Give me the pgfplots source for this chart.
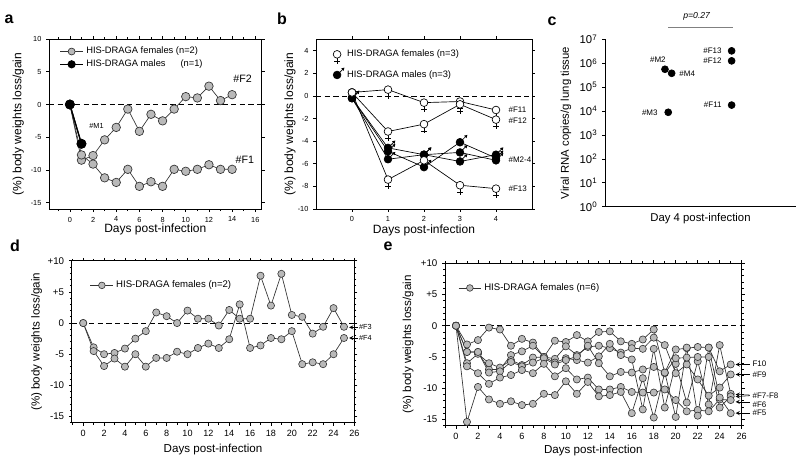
\documentclass[border=0pt]{standalone}
\usepackage{fontspec}
\setmainfont{Liberation Sans}
\usepackage{pgfplots}
\pgfplotsset{compat=1.18}
\definecolor{mkgray}{RGB}{185,185,185}
\definecolor{lngray}{RGB}{50,50,50}
\pgfdeclareplotmark{fem}{%
  \pgfpathmoveto{\pgfqpoint{0pt}{-\pgfplotmarksize}}%
  \pgfpathlineto{\pgfqpoint{0pt}{-2.4\pgfplotmarksize}}%
  \pgfpathmoveto{\pgfqpoint{-0.7\pgfplotmarksize}{-1.8\pgfplotmarksize}}%
  \pgfpathlineto{\pgfqpoint{0.7\pgfplotmarksize}{-1.8\pgfplotmarksize}}%
  \pgfusepathqstroke
  \pgfpathcircle{\pgfpointorigin}{\pgfplotmarksize}%
  \pgfusepathqfillstroke}
\pgfdeclareplotmark{mal}{%
  \pgfpathmoveto{\pgfqpoint{0.7\pgfplotmarksize}{0.7\pgfplotmarksize}}%
  \pgfpathlineto{\pgfqpoint{1.5\pgfplotmarksize}{1.5\pgfplotmarksize}}%
  \pgfusepathqstroke
  \pgfpathmoveto{\pgfqpoint{1.9\pgfplotmarksize}{1.9\pgfplotmarksize}}%
  \pgfpathlineto{\pgfqpoint{1.05\pgfplotmarksize}{1.7\pgfplotmarksize}}%
  \pgfpathlineto{\pgfqpoint{1.7\pgfplotmarksize}{1.05\pgfplotmarksize}}%
  \pgfpathclose
  \pgfusepathqfill
  \pgfpathcircle{\pgfpointorigin}{\pgfplotmarksize}%
  \pgfusepathqfillstroke}
\pgfplotsset{
  base/.style={scale only axis, anchor=south west,
    axis line style={black, line width=0.6pt},
    tick style={black, line width=0.5pt},
    tick align=outside, major tick length=2.2pt, minor tick length=1.4pt,
    /pgf/number format/assume math mode=true,
    legend cell align=left,
    every axis plot/.append style={line width=0.5pt},
    clip=false},
  gr/.style={color=lngray, mark=*, mark size=3.2pt, mark options={fill=mkgray, draw=lngray, line width=0.5pt}},
  grs/.style={color=lngray, mark=*, mark size=2.7pt, mark options={fill=mkgray, draw=lngray, line width=0.45pt}},
}
\newcommand{\tl}{\fontsize{5.5}{6}\selectfont}
\begin{document}
\begin{tikzpicture}
\useasboundingbox (0,0) rectangle (600pt,345.75pt);
% panel letters
\node[font=\fontsize{12}{14}\selectfont\bfseries] at (6.75pt,331.5pt) {a};
\node[font=\fontsize{12}{14}\selectfont\bfseries] at (211.5pt,331.5pt) {b};
\node[font=\fontsize{12}{14}\selectfont\bfseries] at (414pt,330pt) {c};
\node[font=\fontsize{12}{14}\selectfont\bfseries] at (11.25pt,161.25pt) {d};
\node[font=\fontsize{12}{14}\selectfont\bfseries] at (291pt,161.25pt) {e};

% ---------------- panel a
\begin{axis}[base, at={(36.75pt,188.8pt)}, width=159.5pt, height=127.7pt,
  xmin=-1.8, xmax=16.55, ymin=-16, ymax=10,
  xtick={0,2,...,16}, minor xtick={-1,1,...,15},
  ytick={-15,-10,-5,0,5,10},
  ticklabel style={font=\tl},
  xlabel={Days post-infection}, ylabel={(\%) body weights loss/gain},
  label style={font=\fontsize{9}{10}\selectfont},
  xlabel style={at={(axis description cs:0.5,-0.12)}, anchor=center},
  ylabel style={at={(axis description cs:-0.145,0.5)}, anchor=center},
  legend style={draw=none, fill=none, at={(axis description cs:0.03,0.985)}, anchor=north west, font=\fontsize{7}{8}\selectfont, row sep=-1pt},
  legend image post style={mark size=2.6pt}]
\addplot[black, dashed, dash pattern=on 4pt off 2.5pt, forget plot] coordinates {(-1.8,0) (16.55,0)};
\addplot[gr] coordinates {(0,0) (1,-8.5) (2,-7.8) (3,-5.4) (4,-3.5) (5,-0.7) (6,-4.1) (7,-1.5) (8,-2.5) (9,-0.7) (10,1.2) (11,1.0) (12,2.8) (13,0.6) (14,1.5)};
\addlegendentry{HIS-DRAGA females (n=2)}
\addplot[black, line width=0.9pt, mark=*, mark size=3.2pt, mark options={fill=black}] coordinates {(0,0) (1,-6.0)};
\addlegendentry{HIS-DRAGA males\hspace{1.6em}(n=1)}
\addplot[gr, forget plot] coordinates {(0,0) (1,-7.7) (2,-9.1) (3,-11.2) (4,-11.9) (5,-9.9) (6,-12.5) (7,-11.8) (8,-12.5) (9,-9.9) (10,-10.2) (11,-9.9) (12,-9.2) (13,-9.9) (14,-9.9)};
\addplot[black, line width=0.9pt, mark=*, mark size=3.2pt, mark options={fill=black}, forget plot] coordinates {(0,0) (1,-6.0)};
\node[font=\fontsize{8}{9}\selectfont] at (axis cs:14.9,3.9) {\#F2};
\node[font=\fontsize{8}{9}\selectfont] at (axis cs:15.1,-8.5) {\#F1};
\node[font=\fontsize{5.5}{6}\selectfont] at (axis cs:2.3,-3.3) {\#M1};
\end{axis}

% ---------------- panel b
\begin{axis}[base, at={(237pt,189pt)}, width=162pt, height=127.3pt,
  xmin=-1, xmax=5, ymin=-10, ymax=5,
  xtick={0,1,2,3,4}, ytick={-10,-8,...,4},
  ticklabel style={font=\tl},
  xlabel={Days post-infection}, ylabel={(\%) body weights loss/gain},
  label style={font=\fontsize{9}{10}\selectfont},
  xlabel style={at={(axis description cs:0.5,-0.125)}, anchor=center},
  ylabel style={at={(axis description cs:-0.12,0.5)}, anchor=center},
  legend style={draw=none, fill=none, at={(axis description cs:0.06,0.97)}, anchor=north west, font=\fontsize{7}{8}\selectfont, row sep=3pt},
  femst/.style={black, mark=fem, mark size=2.9pt, mark options={fill=white, draw=black, line width=0.5pt}},
  malst/.style={black, mark=mal, mark size=2.9pt, mark options={fill=black, draw=black, line width=0.5pt}}]
\addplot[black, dashed, dash pattern=on 4pt off 2.5pt, forget plot] coordinates {(-1,0) (5,0)};
\addplot[malst, forget plot] coordinates {(0,-0.2) (1,-4.6) (2,-5.2) (3,-5.8) (4,-5.2)};
\addplot[malst, forget plot] coordinates {(0,-0.2) (1,-4.9) (2,-6.3) (3,-4.1) (4,-5.5)};
\addplot[malst, forget plot] coordinates {(0,-0.2) (1,-5.6) (2,-5.2) (3,-5.0) (4,-5.7)};
\addplot[femst, forget plot] coordinates {(0,0.3) (1,0.55) (2,-0.6) (3,-0.5) (4,-1.25)};
\addplot[femst, forget plot] coordinates {(0,0.3) (1,-3.15) (2,-2.5) (3,-0.75) (4,-2.1)};
\addplot[femst, forget plot] coordinates {(0,0.3) (1,-7.4) (2,-5.7) (3,-7.9) (4,-8.2)};
\addlegendimage{only marks, mark=fem, mark size=2.9pt, mark options={fill=white, draw=black}}
\addlegendentry{HIS-DRAGA females (n=3)}
\addlegendimage{only marks, mark=mal, mark size=2.9pt, mark options={fill=black, draw=black}}
\addlegendentry{HIS-DRAGA males (n=3)}
\node[font=\fontsize{6}{7}\selectfont, anchor=west] at (axis cs:4.22,-1.25) {\#F11};
\node[font=\fontsize{6}{7}\selectfont, anchor=west] at (axis cs:4.22,-2.2) {\#F12};
\node[font=\fontsize{6}{7}\selectfont, anchor=west] at (axis cs:4.22,-5.6) {\#M2-4};
\node[font=\fontsize{6}{7}\selectfont, anchor=west] at (axis cs:4.22,-8.2) {\#F13};
\end{axis}

% ---------------- panel c
\begin{axis}[base, at={(453.75pt,190.7pt)}, width=143.25pt, height=125.55pt,
  ymode=log, xmin=0, xmax=1, ymin=1, ymax=1e7,
  axis x line*=bottom, axis y line*=left,
  xtick=\empty, ytick={1,10,100,1000,10000,100000,1000000,10000000},
  yticklabels={10\textsuperscript{0},10\textsuperscript{1},10\textsuperscript{2},10\textsuperscript{3},10\textsuperscript{4},10\textsuperscript{5},10\textsuperscript{6},10\textsuperscript{7}},
  yminorticks=false,
  ticklabel style={font=\fontsize{8.5}{9}\selectfont},
  xlabel={Day 4 post-infection}, ylabel={Viral RNA copies/g lung tissue},
  label style={font=\fontsize{8.5}{10}\selectfont},
  xlabel style={at={(axis description cs:0.5,-0.07)}, anchor=center},
  ylabel style={at={(axis description cs:-0.205,0.5)}, anchor=center}]
\addplot[only marks, mark=*, mark size=2.6pt, black] coordinates {(0.314,5.6e5) (0.349,3.8e5) (0.331,8.9e3) (0.663,3.3e6) (0.663,1.26e6) (0.663,1.78e4)};
\node[font=\fontsize{6}{7}\selectfont] at (axis cs:0.277,1.45e6) {\#M2};
\node[font=\fontsize{6}{7}\selectfont, anchor=west] at (axis cs:0.365,3.6e5) {\#M4};
\node[font=\fontsize{6}{7}\selectfont, anchor=east] at (axis cs:0.300,8.9e3) {\#M3};
\node[font=\fontsize{6}{7}\selectfont, anchor=east] at (axis cs:0.635,3.4e6) {\#F13};
\node[font=\fontsize{6}{7}\selectfont, anchor=east] at (axis cs:0.635,1.3e6) {\#F12};
\node[font=\fontsize{6}{7}\selectfont, anchor=east] at (axis cs:0.635,1.9e4) {\#F11};
\draw[gray, line width=0.8pt] (axis cs:0.33,3.2e7) -- (axis cs:0.67,3.2e7);
\node[font=\fontsize{6.5}{7}\selectfont\itshape] at (axis cs:0.48,9e7) {p=0.27};
\end{axis}

% ---------------- panel d
\begin{axis}[base, at={(53.8pt,28.7pt)}, width=212pt, height=121.5pt,
  xmin=-1.1, xmax=26, ymin=-16, ymax=10,
  xtick={0,2,...,26}, minor xtick={-1,1,...,25},
  ytick={-15,-10,-5,0,5,10}, yticklabels={-15,-10,-5,0,+5,+10},
  minor ytick={-16,...,10},
  xticklabel style={font=\fontsize{6.8}{7}\selectfont},
  yticklabel style={font=\fontsize{7.3}{8}\selectfont},
  xlabel={Days post-infection}, ylabel={(\%) body weights loss/gain},
  label style={font=\fontsize{8.7}{10}\selectfont},
  xlabel style={at={(axis description cs:0.5,-0.165)}, anchor=center},
  ylabel style={at={(axis description cs:-0.124,0.5)}, anchor=center},
  legend style={draw=none, fill=none, at={(axis description cs:0.05,0.91)}, anchor=north west, font=\fontsize{7.2}{8}\selectfont},
  legend image post style={mark size=2.5pt}]
\addplot[black, dashed, dash pattern=on 4pt off 2.5pt, forget plot] coordinates {(-1.1,0) (26,0)};
\addplot[grs] coordinates {(0,0) (1,-3.9) (2,-5.0) (3,-4.8) (4,-4.1) (5,-2.5) (6,-1.3) (7,1.7) (8,1.1) (9,0) (10,2.0) (11,0.7) (12,0.7) (13,-0.4) (14,2.1) (15,0.7) (16,0.7) (17,7.6) (18,2.8) (19,7.9) (20,1.3) (21,1.0) (22,-1.7) (23,-0.6) (24,2.4) (25,-0.6)};
\addlegendentry{HIS-DRAGA females (n=2)}
\addplot[grs, forget plot] coordinates {(0,0) (1,-4.5) (2,-6.9) (3,-5.7) (4,-7.0) (5,-5.0) (6,-7.0) (7,-5.6) (8,-5.6) (9,-4.6) (10,-5.0) (11,-4.0) (12,-3.3) (13,-4.0) (14,-2.6) (15,3.0) (16,-4.0) (17,-3.6) (18,-2.4) (19,-2.6) (20,-1.3) (21,-6.6) (22,-6.3) (23,-6.6) (24,-5.0) (25,-2.4)};
\draw[-stealth, line width=0.4pt] (axis cs:26.3,-0.7) -- (axis cs:25.5,-0.7);
\draw[-stealth, line width=0.4pt] (axis cs:26.3,-2.4) -- (axis cs:25.5,-2.4);
\node[font=\fontsize{5.5}{6}\selectfont, anchor=west, inner sep=1pt] at (axis cs:26.3,-0.7) {\#F3};
\node[font=\fontsize{5.5}{6}\selectfont, anchor=west, inner sep=1pt] at (axis cs:26.3,-2.4) {\#F4};
\end{axis}

% ---------------- panel e
\begin{axis}[base, at={(333.75pt,26.5pt)}, width=222.5pt, height=121.8pt,
  xmin=-1, xmax=26, ymin=-16, ymax=10,
  xtick={0,2,...,26}, minor xtick={-1,1,...,25},
  ytick={-15,-10,-5,0,5,10}, yticklabels={-15,-10,-5,0,+5,+10},
  minor ytick={-16,...,10},
  xticklabel style={font=\fontsize{6.8}{7}\selectfont},
  yticklabel style={font=\fontsize{7.3}{8}\selectfont},
  xlabel={Days post-infection}, ylabel={(\%) body weights loss/gain},
  label style={font=\fontsize{8.7}{10}\selectfont},
  xlabel style={at={(axis description cs:0.5,-0.15)}, anchor=center},
  ylabel style={at={(axis description cs:-0.124,0.5)}, anchor=center},
  legend style={draw=none, fill=none, at={(axis description cs:0.03,0.91)}, anchor=north west, font=\fontsize{7.2}{8}\selectfont},
  legend image post style={mark size=2.5pt}]
\addplot[black, dashed, dash pattern=on 4pt off 2.5pt, forget plot] coordinates {(-1,0) (26,0)};
\addplot[grs] coordinates {(0,0) (1,-3.0) (2,-2.3) (3,-0.3) (4,-0.6) (5,-3.2) (6,-2.1) (7,-2.7) (8,-5.0) (9,-2.4) (10,-2.6) (11,-1.5) (12,-2.5) (13,-1.0) (14,-0.9) (15,-2.5) (16,-2.9) (17,-2.2) (18,-0.6) (19,-7.5) (20,-3.8) (21,-3.6) (22,-3.4) (23,-3.5) (24,-7.3) (25,-6.2)};
\addlegendentry{HIS-DRAGA females (n=6)}
\addplot[grs, forget plot] coordinates {(0,0) (1,-4.2) (2,-4.2) (3,-7.0) (4,-7.0) (5,-4.7) (6,-4.1) (7,-3.2) (8,-5.0) (9,-5.3) (10,-3.3) (11,-4.7) (12,-3.4) (13,-3.2) (14,-3.6) (15,-4.3) (16,-3.6) (17,-3.7) (18,-1.9) (19,-3.1) (20,-7.6) (21,-6.2) (22,-8.6) (23,-11.2) (24,-9.9) (25,-7.8)};
\addplot[grs, forget plot] coordinates {(0,0) (1,-6.0) (2,-4.5) (3,-6.0) (4,-6.7) (5,-5.5) (6,-6.3) (7,-5.1) (8,-5.0) (9,-5.9) (10,-5.2) (11,-5.5) (12,-5.9) (13,-4.9) (14,-2.9) (15,-4.7) (16,-5.4) (17,-13.4) (18,-3.7) (19,-13.1) (20,-6.1) (21,-12.3) (22,-5.7) (23,-12.6) (24,-3.1) (25,-10.9)};
\addplot[grs, forget plot] coordinates {(0,0) (1,-4.2) (2,-4.2) (3,-7.5) (4,-7.3) (5,-5.8) (6,-6.5) (7,-5.9) (8,-5.2) (9,-6.2) (10,-5.5) (11,-4.9) (12,-3.2) (13,-6.0) (14,-8.1) (15,-7.4) (16,-7.5) (17,-7.0) (18,-6.6) (19,-7.6) (20,-5.2) (21,-5.1) (22,-5.0) (23,-5.0) (24,-13.1) (25,-11.3)};
\addplot[grs, forget plot] coordinates {(0,0) (1,-6.5) (2,-7.6) (3,-9.3) (4,-8.3) (5,-7.9) (6,-7.1) (7,-7.6) (8,-6.1) (9,-8.1) (10,-6.8) (11,-8.6) (12,-8.3) (13,-10.2) (14,-10.2) (15,-9.8) (16,-10.6) (17,-10.7) (18,-10.7) (19,-10.2) (20,-11.9) (21,-13.7) (22,-13.5) (23,-13.7) (24,-11.8) (25,-11.9)};
\addplot[grs, forget plot] coordinates {(0,0) (1,-15.4) (2,-9.8) (3,-11.8) (4,-12.5) (5,-12.1) (6,-12.7) (7,-12.5) (8,-10.9) (9,-11.1) (10,-8.9) (11,-10.9) (12,-9.0) (13,-11.3) (14,-11.1) (15,-10.6) (16,-14.0) (17,-8.4) (18,-14.7) (19,-7.5) (20,-14.6) (21,-3.5) (22,-14.4) (23,-3.5) (24,-11.5) (25,-14.0)};
\draw[-stealth, line width=0.4pt] (axis cs:26.75,-6.2) -- (axis cs:25.45,-6.2);
\draw[-stealth, line width=0.4pt] (axis cs:26.75,-7.8) -- (axis cs:25.45,-7.8);
\draw[-stealth, line width=0.4pt] (axis cs:26.75,-12.2) -- (axis cs:25.45,-12.2);
\draw[-stealth, line width=0.4pt] (axis cs:26.75,-14.0) -- (axis cs:25.45,-14.0);
\draw[-stealth, line width=0.4pt] (axis cs:26.75,-11.1) -- (axis cs:25.45,-11.0);
\draw[-stealth, line width=0.4pt] (axis cs:26.75,-11.2) -- (axis cs:25.45,-11.35);
\node[font=\fontsize{6}{7}\selectfont, anchor=west, inner sep=1pt] at (axis cs:26.85,-6.1) {F10};
\node[font=\fontsize{6}{7}\selectfont, anchor=west, inner sep=1pt] at (axis cs:26.85,-7.8) {\#F9};
\node[font=\fontsize{6}{7}\selectfont, anchor=west, inner sep=1pt] at (axis cs:26.85,-11.2) {\#F7-F8};
\node[font=\fontsize{6}{7}\selectfont, anchor=west, inner sep=1pt] at (axis cs:26.85,-12.6) {\#F6};
\node[font=\fontsize{6}{7}\selectfont, anchor=west, inner sep=1pt] at (axis cs:26.85,-14.0) {\#F5};
\end{axis}
\end{tikzpicture}
\end{document}
